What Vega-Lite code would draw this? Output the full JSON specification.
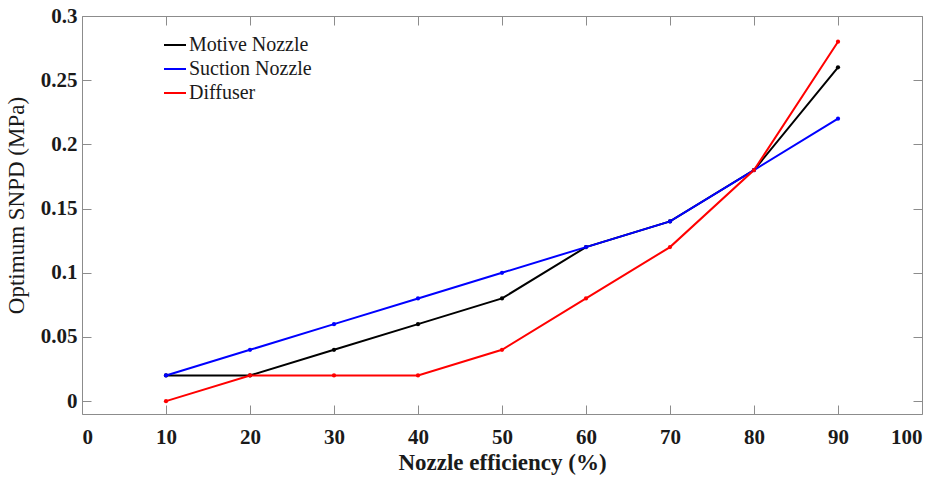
{
  "$schema": "https://vega.github.io/schema/vega-lite/v6.json",
  "autosize": {"type": "none"},
  "width": 840,
  "height": 398,
  "padding": {"left": 82, "top": 16, "right": 20, "bottom": 65},
  "background": "white",
  "config": {
    "font": "Liberation Serif",
    "view": {"stroke": null},
    "axis": {
      "grid": false,
      "domainColor": "#8c8c8c",
      "tickColor": "#8c8c8c",
      "tickSize": -9,
      "labelColor": "#1a1a1a",
      "titleColor": "#1a1a1a",
      "labelFont": "Liberation Serif",
      "titleFont": "Liberation Serif",
      "labelFontWeight": "bold",
      "labelFontSize": 21
    }
  },
  "data": {
    "values": [
      {"eff": 10, "snpd": 0.02, "series": "Motive Nozzle"},
      {"eff": 20, "snpd": 0.02, "series": "Motive Nozzle"},
      {"eff": 30, "snpd": 0.04, "series": "Motive Nozzle"},
      {"eff": 40, "snpd": 0.06, "series": "Motive Nozzle"},
      {"eff": 50, "snpd": 0.08, "series": "Motive Nozzle"},
      {"eff": 60, "snpd": 0.12, "series": "Motive Nozzle"},
      {"eff": 70, "snpd": 0.14, "series": "Motive Nozzle"},
      {"eff": 80, "snpd": 0.18, "series": "Motive Nozzle"},
      {"eff": 90, "snpd": 0.26, "series": "Motive Nozzle"},
      {"eff": 10, "snpd": 0.02, "series": "Suction Nozzle"},
      {"eff": 20, "snpd": 0.04, "series": "Suction Nozzle"},
      {"eff": 30, "snpd": 0.06, "series": "Suction Nozzle"},
      {"eff": 40, "snpd": 0.08, "series": "Suction Nozzle"},
      {"eff": 50, "snpd": 0.10, "series": "Suction Nozzle"},
      {"eff": 60, "snpd": 0.12, "series": "Suction Nozzle"},
      {"eff": 70, "snpd": 0.14, "series": "Suction Nozzle"},
      {"eff": 80, "snpd": 0.18, "series": "Suction Nozzle"},
      {"eff": 90, "snpd": 0.22, "series": "Suction Nozzle"},
      {"eff": 10, "snpd": 0.00, "series": "Diffuser"},
      {"eff": 20, "snpd": 0.02, "series": "Diffuser"},
      {"eff": 30, "snpd": 0.02, "series": "Diffuser"},
      {"eff": 40, "snpd": 0.02, "series": "Diffuser"},
      {"eff": 50, "snpd": 0.04, "series": "Diffuser"},
      {"eff": 60, "snpd": 0.08, "series": "Diffuser"},
      {"eff": 70, "snpd": 0.12, "series": "Diffuser"},
      {"eff": 80, "snpd": 0.18, "series": "Diffuser"},
      {"eff": 90, "snpd": 0.28, "series": "Diffuser"}
    ]
  },
  "resolve": {"axis": {"x": "independent", "y": "independent"}},
  "layer": [
    {
      "mark": {"type": "line", "strokeWidth": 2, "point": {"filled": true, "size": 18}},
      "encoding": {
        "x": {
          "field": "eff", "type": "quantitative",
          "scale": {"domain": [0, 100], "nice": false, "zero": false},
          "axis": {"values": [0,10,20,30,40,50,60,70,80,90,100], "labelPadding": 21, "title": "Nozzle efficiency (%)", "titleFontSize": 23, "titleFontWeight": "bold", "titlePadding": 4}
        },
        "y": {
          "field": "snpd", "type": "quantitative",
          "scale": {"domain": [-0.01, 0.3], "nice": false, "zero": false},
          "axis": {"values": [0,0.05,0.1,0.15,0.2,0.25,0.3], "format": ".2~f", "labelPadding": 14, "title": "Optimum SNPD (MPa)", "titleFontSize": 23, "titleFontWeight": "normal", "titlePadding": 12, "titleY": 189}
        },
        "color": {
          "field": "series", "type": "nominal",
          "scale": {"domain": ["Motive Nozzle", "Suction Nozzle", "Diffuser"], "range": ["#000000", "#0000ff", "#ff0000"]},
          "legend": {
            "title": null, "orient": "none", "legendX": 81, "legendY": 17,
            "symbolType": "stroke", "symbolSize": 484, "symbolStrokeWidth": 2,
            "labelFontSize": 20, "labelFont": "Liberation Serif", "labelColor": "#1a1a1a",
            "labelOffset": 2, "rowPadding": 2, "padding": 0
          }
        },
        "order": {"field": "eff"}
      }
    },
    {
      "mark": {"type": "line", "opacity": 0},
      "encoding": {
        "x": {"field": "eff", "type": "quantitative", "axis": {"orient": "top", "values": [0,10,20,30,40,50,60,70,80,90,100], "labels": false, "title": null}},
        "y": {"field": "snpd", "type": "quantitative", "axis": {"orient": "right", "values": [0,0.05,0.1,0.15,0.2,0.25,0.3], "labels": false, "title": null}}
      }
    }
  ]
}
